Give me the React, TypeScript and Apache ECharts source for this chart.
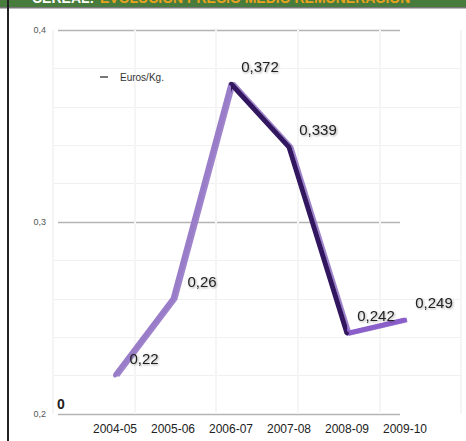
import React, { useEffect, useRef } from "react";
import * as echarts from "echarts";

const categories = ["2004-05", "2005-06", "2006-07", "2007-08", "2008-09", "2009-10"];
const euroPerKg = [0.22, 0.26, 0.372, 0.339, 0.242, 0.249];
const yTicks = { min: 0.2, max: 0.4, interval: 0.1 };
const seriesName = "Euros/Kg.";
const titleWhite = "CEREAL: ";
const titleOrange = "EVOLUCIÓN PRECIO MEDIO REMUNERACIÓN";

const comma = (v: number) => String(v).replace(".", ",");

export default function App() {
  const ref = useRef<HTMLDivElement>(null);
  useEffect(() => {
    const chart = echarts.init(ref.current!, null, { renderer: "svg" });
    const font = "Liberation Sans, Arial, sans-serif";
    chart.setOption({
      animation: false,
      backgroundColor: "#ffffff",
      textStyle: { fontFamily: font },
      grid: [
        { left: 53, right: 5, top: 30, bottom: 27 },
        { left: 58, right: 66, top: 30, bottom: 27 },
        { left: 115, right: 61, top: 30, bottom: 27 },
      ],
      xAxis: [
        {
          gridIndex: 0, type: "value", min: 0, max: 5, interval: 1,
          axisLine: { show: false }, axisTick: { show: false }, axisLabel: { show: false },
          splitLine: { show: true, lineStyle: { color: "#f5f5f5", width: 2 } },
        },
        {
          gridIndex: 1, type: "value", min: 0, max: 1,
          axisLine: { show: false }, axisTick: { show: false }, axisLabel: { show: false },
          splitLine: { show: false },
        },
        {
          gridIndex: 2, type: "category", data: categories, boundaryGap: false,
          axisLine: { show: false }, axisTick: { show: false },
          axisLabel: { color: "#222", fontSize: 12, margin: 9, fontFamily: font },
          splitLine: { show: false },
        },
      ],
      yAxis: [
        {
          gridIndex: 0, type: "value", ...yTicks,
          axisLine: { show: false }, axisTick: { show: false }, axisLabel: { show: false },
          splitLine: { show: false },
          minorTick: { show: false, splitNumber: 5 },
          minorSplitLine: { show: true, lineStyle: { color: "#f0f0f0", width: 1 } },
        },
        {
          gridIndex: 1, type: "value", ...yTicks,
          axisLine: { show: false }, axisTick: { show: false },
          axisLabel: { color: "#555", fontSize: 9, margin: 12, formatter: (v: number) => comma(v) },
          splitLine: { show: true, lineStyle: { color: "#b4b4b4", width: 1.3 } },
        },
        {
          gridIndex: 2, type: "value", ...yTicks,
          show: false,
        },
      ],
      legend: {
        left: 95, top: 67,
        icon: "rect", itemWidth: 8, itemHeight: 2,
        textStyle: { color: "#333", fontSize: 10, padding: [0, 0, 0, 7] },
        data: [{ name: seriesName, itemStyle: { color: "#777", opacity: 1 } }],
      },
      visualMap: {
        show: false, type: "piecewise", dimension: 0, seriesIndex: 0,
        pieces: [
          { lt: 2, color: "#9a7dc9" },
          { gte: 2, lte: 4, color: "#33195e" },
          { gt: 4, color: "#8b5fc9" },
        ],
      },
      series: [
        {
          name: seriesName,
          type: "line",
          xAxisIndex: 2, yAxisIndex: 2,
          data: euroPerKg,
          symbol: "circle",
          symbolSize: 4,
          showSymbol: true,
          lineStyle: { width: 5, shadowColor: "rgba(150,120,200,0.9)", shadowOffsetX: 2, shadowBlur: 0 },
          label: {
            show: true, position: "top", distance: 5, offset: [29, -3],
            color: "#222", fontSize: 15, fontFamily: font,
            textShadowColor: "rgba(0,0,0,0.35)", textShadowBlur: 2, textShadowOffsetX: 1, textShadowOffsetY: 1,
            formatter: (p: any) => comma(p.value),
          },
        },
      ],
      graphic: [
        { type: "rect", shape: { x: 0, y: 0, width: 466, height: 7 }, style: { fill: "#477c3c" } },
        { type: "rect", shape: { x: 0, y: 7, width: 466, height: 1.5 }, style: { fill: "#777" } },
        { type: "rect", shape: { x: 7, y: 0, width: 2, height: 441 }, style: { fill: "#222" } },
        {
          type: "text", x: 32, y: -9,
          style: {
            text: titleWhite, fill: "#ffffff", font: "bold 14px " + font,
            textVerticalAlign: "top",
          },
        },
        {
          type: "text", x: 100, y: -9,
          style: {
            text: titleOrange, fill: "#eaa21d", font: "bold 14px " + font,
            textVerticalAlign: "top",
          },
        },
        {
          type: "text", x: 57, y: 397,
          style: { text: "0", fill: "#222", font: "bold 14px " + font },
        },
      ],
    });
    return () => chart.dispose();
  }, []);
  return (
    <div
      ref={ref}
      style={{ position: "fixed", left: 0, top: 0, width: 466, height: 441 }}
    />
  );
}
